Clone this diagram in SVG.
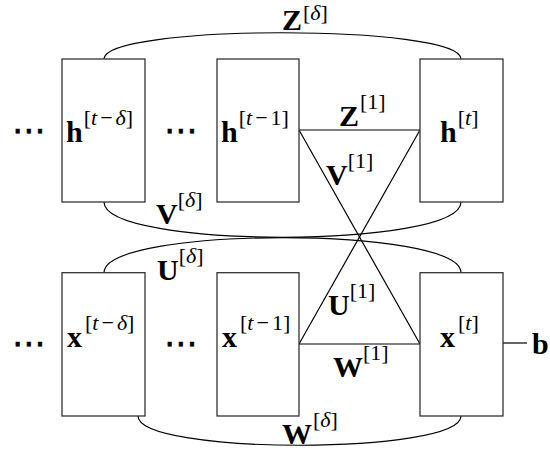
<svg xmlns="http://www.w3.org/2000/svg" width="550" height="451" viewBox="0 0 550 451">
<style>
.box{fill:#fff;stroke:#333;stroke-width:1.3}
.ln{fill:none;stroke:#000;stroke-width:1.2}
.m{font-family:"Liberation Serif",serif;font-weight:bold;font-size:30px;fill:#000}
.s{font-weight:normal;font-size:22px}
.i{font-style:italic}
.d{font-family:"DejaVu Sans",sans-serif;font-size:34px;fill:#000;stroke:#000;stroke-width:0.6}
</style>
<rect width="550" height="451" fill="#fff"/>
<g id="connectors">
<path class="ln" d="M104,59 C104,24 461,24 461,59"/>
<path class="ln" d="M104,202 C104,249 461,249 461,202"/>
<path class="ln" d="M104,272.7 C104,226 461,226 461,272.7"/>
<path class="ln" d="M138,416 C138,455 461,455 461,416"/>
<path class="ln" d="M299,130 H420"/>
<path class="ln" d="M299,344 H420"/>
<path class="ln" d="M299,130 L420,344"/>
<path class="ln" d="M420,130 L299,344"/>
<path class="ln" d="M503,343 H527"/>
</g>
<g id="h_t_delta"><rect class="box" x="62" y="59" width="83" height="143"/><text class="m" x="66" y="142">h<tspan class="s" dy="-17" dx="1">[<tspan class="i">t</tspan><tspan dx="3">−</tspan><tspan class="i" dx="3">δ</tspan>]</tspan></text></g>
<g id="h_t_1"><rect class="box" x="217" y="59" width="82" height="143"/><text class="m" x="221" y="142">h<tspan class="s" dy="-17" dx="1">[<tspan class="i">t</tspan><tspan dx="3">−</tspan><tspan dx="3">1</tspan>]</tspan></text></g>
<g id="h_t"><rect class="box" x="420" y="59" width="83" height="143"/><text class="m" x="440" y="142">h<tspan class="s" dy="-17" dx="1">[<tspan class="i">t</tspan>]</tspan></text></g>
<g id="x_t_delta"><rect class="box" x="62" y="272.7" width="83" height="143.3"/><text class="m" x="67" y="347">x<tspan class="s" dy="-17" dx="3">[<tspan class="i">t</tspan><tspan dx="3">−</tspan><tspan class="i" dx="3">δ</tspan>]</tspan></text></g>
<g id="x_t_1"><rect class="box" x="217" y="272.7" width="82" height="143.3"/><text class="m" x="222" y="347">x<tspan class="s" dy="-17" dx="3">[<tspan class="i">t</tspan><tspan dx="3">−</tspan><tspan dx="3">1</tspan>]</tspan></text></g>
<g id="x_t"><rect class="box" x="420" y="272.7" width="83" height="143.3"/><text class="m" x="440" y="347">x<tspan class="s" dy="-17" dx="3">[<tspan class="i">t</tspan>]</tspan></text></g>
<g id="b"><text class="m" x="532" y="354">b</text></g>
<g id="dots">
<text class="d" x="12" y="142">⋯</text>
<text class="d" x="164" y="142">⋯</text>
<text class="d" x="12" y="355">⋯</text>
<text class="d" x="164" y="355">⋯</text>
</g>
<g id="labels">
<text class="m" x="282" y="30">Z<tspan class="s" dy="-10" dx="1">[<tspan class="i">δ</tspan>]</tspan></text>
<text class="m" x="339" y="126">Z<tspan class="s" dy="-17" dx="1">[1]</tspan></text>
<text class="m" x="326" y="185">V<tspan class="s" dy="-17">[1]</tspan></text>
<text class="m" x="156" y="224">V<tspan class="s" dy="-17">[<tspan class="i">δ</tspan>]</tspan></text>
<text class="m" x="157" y="280">U<tspan class="s" dy="-17">[<tspan class="i">δ</tspan>]</tspan></text>
<text class="m" x="328" y="315">U<tspan class="s" dy="-17">[1]</tspan></text>
<text class="m" x="333" y="377">W<tspan class="s" dy="-17">[1]</tspan></text>
<text class="m" x="282" y="444">W<tspan class="s" dy="-17" dx="1">[<tspan class="i">δ</tspan>]</tspan></text>
</g>
</svg>
